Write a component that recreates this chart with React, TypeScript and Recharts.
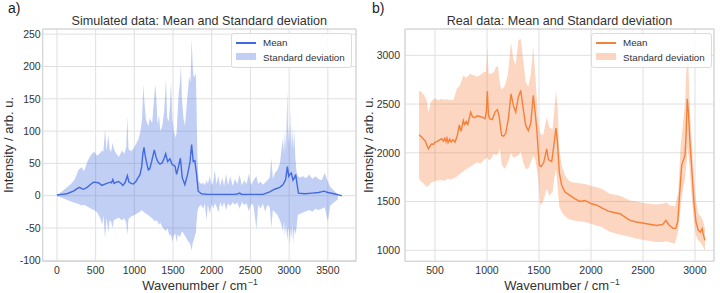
import { ComposedChart, Area, Line, XAxis, YAxis, CartesianGrid, ReferenceArea } from 'recharts';

// a) simulated spectra
const simMeanX = [0, 60, 129, 214, 260, 292, 320, 343, 390, 429, 472, 537, 580, 620, 644, 687, 705, 722, 738, 770, 795, 830, 850, 880, 910, 930, 960, 988, 1020, 1039, 1074, 1095, 1110, 1125, 1140, 1168, 1181, 1200, 1224, 1258, 1280, 1301, 1331, 1361, 1385, 1405, 1430, 1460, 1490, 1525, 1546, 1570, 1595, 1619, 1653, 1688, 1718, 1740, 1761, 1782, 1804, 1825, 1868, 1950, 2100, 2300, 2340, 2362, 2385, 2500, 2663, 2749, 2813, 2878, 2920, 2955, 2977, 2995, 3010, 3028, 3050, 3070, 3084, 3100, 3120, 3200, 3300, 3380, 3415, 3450, 3500, 3580, 3650, 3680];
const simMeanY = [1, 2, 3, 7, 11, 13, 11, 10, 13, 17, 21, 20, 16, 18, 19, 21, 20, 25, 19, 21, 22, 19, 16, 20, 31, 21, 19, 18, 22, 26, 33, 45, 65, 75, 62, 46, 40, 42, 53, 71, 60, 53, 49, 51, 58, 65, 53, 57, 48, 46, 33, 45, 58, 28, 17, 33, 51, 79, 53, 54, 33, 7, 3, 2, 2, 2, 3, 4, 2, 2, 2, 6, 10, 13, 17, 25, 45, 30, 33, 35, 24, 28, 33, 20, 4, 3, 4, 5, 6, 7, 5, 3, 1, 0];

const simBandX = [0, 60, 120, 180, 230, 280, 320, 350, 400, 440, 480, 520, 560, 585, 600, 622, 640, 665, 680, 700, 718, 735, 760, 800, 840, 870, 895, 910, 925, 960, 1000, 1030, 1055, 1080, 1100, 1116, 1130, 1150, 1180, 1200, 1230, 1255, 1271, 1285, 1300, 1319, 1335, 1360, 1385, 1409, 1425, 1445, 1460, 1474, 1490, 1510, 1530, 1546, 1560, 1575, 1589, 1602, 1615, 1635, 1653, 1670, 1690, 1709, 1725, 1740, 1755, 1765, 1782, 1795, 1805, 1815, 1830, 1860, 1890, 1910, 1933, 1950, 1975, 2000, 2020, 2040, 2060, 2085, 2110, 2135, 2160, 2185, 2210, 2240, 2270, 2300, 2330, 2360, 2390, 2420, 2450, 2480, 2510, 2540, 2577, 2600, 2630, 2660, 2690, 2720, 2750, 2770, 2790, 2820, 2850, 2880, 2900, 2920, 2935, 2945, 2960, 2977, 2990, 3000, 3010, 3020, 3028, 3040, 3052, 3065, 3080, 3095, 3113, 3140, 3180, 3220, 3260, 3300, 3340, 3380, 3420, 3460, 3500, 3530, 3580, 3630, 3680];
const simBandLo = [-1, -3, -6, -9, -11, -13, -15, -14, -17, -20, -22, -26, -35, -45, -30, -66, -35, -56, -38, -40, -50, -38, -36, -34, -38, -35, -42, -61, -36, -32, -30, -28, -26, -24, -22, -25, -26, -28, -30, -32, -35, -38, -40, -38, -40, -45, -42, -48, -52, -55, -50, -58, -62, -60, -71, -62, -58, -72, -60, -62, -64, -60, -55, -58, -62, -65, -70, -72, -76, -85, -72, -70, -62, -58, -40, -25, -18, -14, -20, -12, -38, -14, -28, -12, -20, -12, -16, -26, -10, -18, -10, -22, -12, -16, -10, -14, -10, -20, -10, -14, -12, -24, -12, -15, -52, -14, -20, -12, -25, -14, -18, -50, -22, -26, -30, -38, -45, -55, -40, -62, -45, -70, -48, -58, -76, -50, -66, -45, -74, -52, -60, -50, -30, -28, -26, -24, -22, -25, -20, -22, -20, -18, -40, -16, -10, -6, -2];
const simBandHi = [1, 6, 12, 18, 25, 40, 44, 38, 55, 63, 68, 62, 66, 70, 68, 103, 70, 94, 72, 68, 82, 73, 66, 60, 70, 65, 75, 123, 72, 69, 75, 82, 88, 100, 120, 172, 145, 118, 108, 120, 112, 150, 172, 150, 110, 125, 100, 108, 130, 180, 120, 115, 140, 176, 120, 100, 90, 97, 130, 160, 175, 202, 150, 120, 108, 130, 160, 184, 175, 242, 200, 185, 184, 190, 130, 60, 24, 18, 20, 16, 24, 18, 30, 16, 22, 40, 18, 30, 15, 28, 15, 34, 16, 30, 15, 26, 18, 32, 16, 24, 18, 34, 16, 24, 30, 18, 22, 17, 20, 24, 28, 58, 26, 36, 40, 50, 70, 89, 65, 100, 72, 162, 80, 112, 78, 136, 70, 105, 72, 100, 60, 38, 30, 28, 30, 27, 33, 26, 30, 26, 24, 35, 22, 14, 8, 2];

// b) real spectra
const realMeanX = [346, 368, 390, 404, 420, 436, 452, 468, 484, 500, 520, 540, 564, 580, 595, 605, 615, 625, 640, 655, 670, 692, 714, 734, 750, 772, 785, 800, 815, 843, 860, 880, 909, 940, 960, 981, 993, 1003, 1013, 1024, 1050, 1077, 1099, 1115, 1141, 1160, 1180, 1205, 1231, 1253, 1276, 1301, 1324, 1348, 1372, 1397, 1420, 1445, 1462, 1478, 1490, 1503, 1520, 1545, 1574, 1590, 1622, 1648, 1663, 1678, 1695, 1718, 1750, 1798, 1846, 1894, 1942, 2006, 2060, 2103, 2167, 2220, 2279, 2320, 2375, 2439, 2535, 2631, 2690, 2721, 2750, 2790, 2815, 2835, 2849, 2872, 2904, 2915, 2926, 2938, 2952, 2968, 2990, 3010, 3032, 3053, 3070, 3080, 3096];
const realMeanY = [2185, 2165, 2140, 2127, 2080, 2041, 2070, 2092, 2085, 2110, 2115, 2130, 2144, 2120, 2150, 2115, 2150, 2105, 2140, 2110, 2135, 2110, 2178, 2287, 2220, 2332, 2290, 2320, 2290, 2417, 2370, 2360, 2380, 2370, 2360, 2349, 2420, 2630, 2400, 2349, 2340, 2417, 2443, 2380, 2178, 2170, 2200, 2349, 2605, 2486, 2417, 2571, 2640, 2450, 2281, 2228, 2300, 2589, 2420, 2246, 2050, 1871, 1860, 1900, 2041, 1930, 1909, 2120, 2253, 2100, 1800, 1666, 1597, 1563, 1528, 1501, 1511, 1477, 1460, 1436, 1402, 1388, 1375, 1345, 1306, 1290, 1272, 1255, 1265, 1306, 1260, 1225, 1225, 1300, 1528, 1871, 1973, 2200, 2554, 2400, 2102, 1860, 1494, 1289, 1205, 1187, 1222, 1160, 1102];

const realBandX = [346, 370, 395, 420, 436, 460, 480, 500, 530, 560, 590, 620, 650, 680, 709, 740, 772, 800, 837, 870, 905, 940, 970, 990, 1003, 1015, 1040, 1065, 1087, 1105, 1125, 1141, 1160, 1173, 1200, 1231, 1253, 1276, 1301, 1324, 1348, 1372, 1397, 1420, 1445, 1465, 1493, 1510, 1540, 1574, 1600, 1630, 1648, 1663, 1680, 1695, 1718, 1750, 1782, 1814, 1870, 1942, 2006, 2103, 2180, 2279, 2375, 2439, 2535, 2631, 2700, 2721, 2760, 2808, 2840, 2862, 2880, 2904, 2920, 2926, 2935, 2952, 2968, 2990, 3010, 3032, 3053, 3077, 3096];
const realBandLo = [1733, 1700, 1680, 1648, 1660, 1690, 1700, 1710, 1715, 1720, 1710, 1735, 1725, 1740, 1755, 1785, 1810, 1830, 1855, 1880, 1900, 1890, 1930, 1938, 1960, 1920, 1940, 1990, 1975, 1990, 2041, 1880, 1850, 1836, 1900, 2000, 1950, 1960, 1973, 2010, 1900, 1836, 1836, 1900, 1973, 1930, 1733, 1460, 1500, 1631, 1560, 1600, 1740, 1836, 1640, 1450, 1392, 1350, 1323, 1310, 1300, 1290, 1270, 1238, 1190, 1160, 1140, 1118, 1100, 1084, 1085, 1095, 1080, 1070, 1200, 1450, 1600, 1733, 1900, 2041, 2000, 1800, 1550, 1300, 1150, 1100, 1080, 1040, 995];
const realBandHi = [2640, 2620, 2590, 2537, 2417, 2520, 2545, 2560, 2540, 2555, 2545, 2550, 2540, 2545, 2657, 2690, 2794, 2770, 2810, 2795, 2780, 2800, 2830, 2830, 3084, 2810, 2810, 2830, 2879, 2890, 2700, 2650, 2670, 2691, 2800, 3135, 2960, 2900, 3153, 3169, 2950, 2725, 2680, 2800, 3084, 2780, 2315, 2200, 2180, 2366, 2260, 2240, 2450, 2640, 2450, 2041, 1871, 1770, 1720, 1699, 1690, 1680, 1660, 1630, 1580, 1560, 1510, 1500, 1480, 1470, 1480, 1494, 1460, 1450, 1600, 2076, 2250, 2500, 2930, 3067, 2950, 2400, 2150, 1750, 1500, 1374, 1350, 1306, 1220];

const simTicksX = [0, 500, 1000, 1500, 2000, 2500, 3000, 3500];
const simTicksY = [-100, -50, 0, 50, 100, 150, 200, 250];
const realTicksX = [500, 1000, 1500, 2000, 2500, 3000];
const realTicksY = [1000, 1500, 2000, 2500, 3000];

const FONT = '"Liberation Sans", Arial, sans-serif';
const TEXT = '#333';

interface PanelProps {
  left: number;
  mean: { x: number; y: number }[];
  band: { x: number; band: [number, number] }[];
  xDomain: [number, number];
  yDomain: [number, number];
  xTicks: number[];
  yTicks: number[];
  plotLeft: number;
  plotRight: number;
  yTickGap: number;
  lineColor: string;
  fillColor: string;
}

function Panel(p: PanelProps) {
  return (
    <div style={{ position: 'absolute', left: p.left, top: 0 }}>
      <ComposedChart
        width={360}
        height={293}
        margin={{ top: 29, right: 360 - p.plotRight, bottom: 6.7, left: p.plotLeft - 40 }}
      >
        <CartesianGrid stroke="#e0e0e0" strokeWidth={1} />
        <XAxis
          type="number"
          dataKey="x"
          domain={p.xDomain}
          ticks={p.xTicks}
          interval={0}
          allowDataOverflow
          height={25}
          tickSize={0}
          tickMargin={5}
          axisLine={false}
          tickLine={false}
          tick={{ fontSize: 10.5, fill: TEXT }}
        />
        <YAxis
          type="number"
          domain={p.yDomain}
          ticks={p.yTicks}
          interval={0}
          allowDataOverflow
          width={40}
          tickSize={0}
          tickMargin={p.yTickGap}
          axisLine={false}
          tickLine={false}
          tick={{ fontSize: 10.5, fill: TEXT }}
        />
        <Area
          data={p.band}
          dataKey="band"
          type="linear"
          stroke="none"
          fill={p.fillColor}
          fillOpacity={0.32}
          isAnimationActive={false}
        />
        <Line
          data={p.mean}
          dataKey="y"
          type="linear"
          stroke={p.lineColor}
          strokeWidth={1.4}
          dot={false}
          isAnimationActive={false}
        />
        <ReferenceArea
          x1={p.xDomain[0]}
          x2={p.xDomain[1]}
          y1={p.yDomain[0]}
          y2={p.yDomain[1]}
          fill="none"
          stroke="#d2d2d2"
          fillOpacity={0}
        />
      </ComposedChart>
    </div>
  );
}

function LegendBox({ left, line, fill }: { left: number; line: string; fill: string }) {
  return (
    <div
      style={{
        position: 'absolute',
        left,
        top: 33,
        width: 121,
        height: 35,
        boxSizing: 'border-box',
        border: '1px solid #dcdcdc',
        borderRadius: 3,
        background: 'rgba(255,255,255,0.85)',
        fontSize: 9.8,
        color: TEXT,
        whiteSpace: 'nowrap',
      }}
    >
      <div style={{ position: 'absolute', left: 4, top: 8, width: 20, height: 1.5, background: line }} />
      <div style={{ position: 'absolute', left: 31, top: 2, lineHeight: '13px' }}>Mean</div>
      <div style={{ position: 'absolute', left: 4, top: 19, width: 20, height: 7, background: fill, opacity: 0.32 }} />
      <div style={{ position: 'absolute', left: 31, top: 16.5, lineHeight: '13px' }}>Standard deviation</div>
    </div>
  );
}

function XLabel({ center }: { center: number }) {
  return (
    <div
      style={{
        position: 'absolute',
        left: center - 80,
        width: 160,
        top: 279,
        textAlign: 'center',
        fontSize: 13,
        lineHeight: '13px',
        color: TEXT,
        whiteSpace: 'nowrap',
      }}
    >
      Wavenumber / cm<span style={{ fontSize: 8.5, position: 'relative', top: -5, marginLeft: 1 }}>−1</span>
    </div>
  );
}

function YLabel({ cx }: { cx: number }) {
  return (
    <div
      style={{
        position: 'absolute',
        left: cx,
        top: 145,
        transform: 'translate(-50%, -50%) rotate(-90deg)',
        fontSize: 13,
        lineHeight: '13px',
        color: TEXT,
        whiteSpace: 'nowrap',
      }}
    >
      Intensity / arb. u.
    </div>
  );
}

export default function App() {
  const simMean = simMeanX.map((x, i) => ({ x, y: simMeanY[i] }));
  const simBand = simBandX.map((x, i) => ({ x, band: [simBandLo[i], simBandHi[i]] as [number, number] }));
  const realMean = realMeanX.map((x, i) => ({ x, y: realMeanY[i] }));
  const realBand = realBandX.map((x, i) => ({ x, band: [realBandLo[i], realBandHi[i]] as [number, number] }));

  return (
    <div
      style={{
        position: 'absolute',
        left: 0,
        top: 0,
        width: 720,
        height: 293,
        background: '#fff',
        fontFamily: FONT,
        overflow: 'hidden',
      }}
    >
      <Panel
        left={0}
        mean={simMean}
        band={simBand}
        xDomain={[-184, 3864]}
        yDomain={[-101.5, 258]}
        xTicks={simTicksX}
        yTicks={simTicksY}
        plotLeft={42.7}
        plotRight={356}
        yTickGap={2}
        lineColor="#4169e1"
        fillColor="#4169e1"
      />
      <Panel
        left={360}
        mean={realMean}
        band={realBand}
        xDomain={[211, 3183]}
        yDomain={[887, 3270]}
        xTicks={realTicksX}
        yTicks={realTicksY}
        plotLeft={45}
        plotRight={354}
        yTickGap={5}
        lineColor="#f5803a"
        fillColor="#f5803a"
      />

      <div style={{ position: 'absolute', left: 8, top: 0, fontSize: 14, color: '#222' }}>a)</div>
      <div style={{ position: 'absolute', left: 372, top: 0, fontSize: 14, color: '#222' }}>b)</div>

      <div style={{ position: 'absolute', left: 42.7, width: 313.3, top: 13.5, textAlign: 'center', fontSize: 12.6, color: TEXT, whiteSpace: 'nowrap' }}>
        Simulated data: Mean and Standard deviation
      </div>
      <div style={{ position: 'absolute', left: 405, width: 309, top: 13.5, textAlign: 'center', fontSize: 12.6, color: TEXT, whiteSpace: 'nowrap' }}>
        Real data: Mean and Standard deviation
      </div>

      <LegendBox left={231} line="#4169e1" fill="#4169e1" />
      <LegendBox left={591} line="#f5803a" fill="#f5803a" />

      <XLabel center={200} />
      <XLabel center={562} />
      <YLabel cx={7.5} />
      <YLabel cx={367.5} />
    </div>
  );
}
